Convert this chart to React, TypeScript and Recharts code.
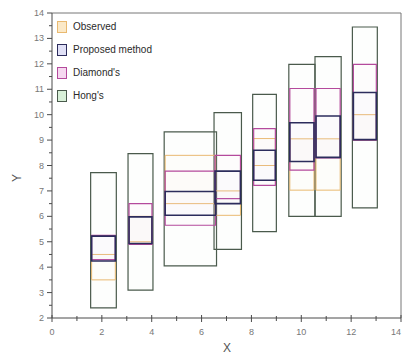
import {
  ComposedChart,
  XAxis,
  YAxis,
  Scatter,
  ReferenceArea,
  ReferenceLine,
} from 'recharts'

// x extent of each interval group
const groupLeft = [1.55, 3.05, 4.5, 6.5, 8.05, 9.5, 10.55, 12.05]
const groupRight = [2.58, 4.05, 6.6, 7.6, 9.0, 10.55, 11.6, 13.05]

const hongLow = [2.4, 3.1, 4.05, 4.7, 5.4, 6.0, 6.0, 6.33]
const hongHigh = [7.72, 8.47, 9.32, 10.08, 10.8, 11.98, 12.28, 13.45]
const observedLow = [3.5, 5.0, 6.5, 6.04, 8.0, 7.03, 7.03, 9.0]
const observedHigh = [4.5, 6.0, 8.4, 7.0, 9.06, 9.05, 9.05, 10.0]
const diamondLow = [4.3, 4.9, 5.65, 6.7, 7.22, 7.82, 8.3, 9.0]
const diamondHigh = [5.25, 6.5, 7.78, 8.4, 9.45, 11.03, 11.03, 11.98]
const proposedLow = [4.24, 4.93, 6.04, 6.5, 7.42, 8.16, 8.32, 9.02]
const proposedHigh = [5.22, 5.98, 6.98, 7.78, 8.6, 9.68, 9.95, 10.87]

const xTicks = [0, 1, 2, 3, 4, 5, 6, 7, 8, 9, 10, 11, 12, 13, 14]
const yTicks = [
  2, 2.5, 3, 3.5, 4, 4.5, 5, 5.5, 6, 6.5, 7, 7.5, 8, 8.5, 9, 9.5, 10, 10.5,
  11, 11.5, 12, 12.5, 13, 13.5, 14,
]

const series = [
  { name: 'Hong\'s', low: hongLow, high: hongHigh, stroke: '#4a5a4c', fill: '#d8f0d8', width: 1.2, inset: 0 },
  { name: 'Observed', low: observedLow, high: observedHigh, stroke: '#e9b970', fill: '#fbe9c8', width: 1, inset: 0.04 },
  { name: 'Diamond\'s', low: diamondLow, high: diamondHigh, stroke: '#b44a9c', fill: '#f6d8f0', width: 1.2, inset: 0.04 },
  { name: 'Proposed method', low: proposedLow, high: proposedHigh, stroke: '#2c2c5c', fill: '#e0e0f6', width: 1.6, inset: 0.04 },
]

const legendOrder = ['Observed', 'Proposed method', 'Diamond\'s', 'Hong\'s']

const centers = groupLeft.map((l, i) => ({
  x: (l + groupRight[i]) / 2,
  y: (hongLow[i] + hongHigh[i]) / 2,
}))

const AXIS = '#4a4a4a'
const FONT = '"Liberation Sans", Arial, sans-serif'

const XTick = ({ x, y, payload }: any) => {
  const major = payload.value % 2 === 0
  return (
    <g>
      <line x1={x} x2={x} y1={y - (major ? 3 : 2)} y2={y + (major ? 4 : 3)} stroke={AXIS} strokeWidth={1} />
      {major && (
        <text x={Math.min(x, 396)} y={y + 17} textAnchor="middle" fontSize={9} fill="#777" fontFamily={FONT}>
          {payload.value}
        </text>
      )}
    </g>
  )
}

const YTick = ({ x, y, payload }: any) => {
  const major = Number.isInteger(payload.value)
  return (
    <g>
      <line x1={x} x2={x - (major ? 5 : 3)} y1={y} y2={y} stroke={AXIS} strokeWidth={1} />
      {major && (
        <text x={x - 8} y={y + 3} textAnchor="end" fontSize={9} fill="#777" fontFamily={FONT}>
          {payload.value}
        </text>
      )}
    </g>
  )
}

export default function App() {
  return (
    <div style={{ position: 'relative', width: 403, height: 363, background: '#fff' }}>
      <style>{'body{margin:0}'}</style>
      <ComposedChart width={403} height={363} margin={{ top: 13, right: 2, bottom: 0, left: 0 }}>
        <XAxis
          type="number"
          dataKey="x"
          domain={[0, 14]}
          ticks={xTicks}
          interval={0}
          height={45}
          tickSize={0}
          tickMargin={0}
          tickLine={false}
          tick={<XTick />}
          stroke={AXIS}
          label={{
            content: () => (
              <text x={227} y={352} textAnchor="middle" fontSize={12} fill="#555" fontFamily={FONT}>
                X
              </text>
            ),
          }}
        />
        <YAxis
          type="number"
          dataKey="y"
          domain={[2, 14]}
          ticks={yTicks}
          interval={0}
          width={52}
          tickSize={0}
          tickMargin={0}
          tickLine={false}
          tick={<YTick />}
          stroke={AXIS}
          label={{
            content: () => (
              <text x={21} y={178} textAnchor="middle" fontSize={12} fill="#555" fontFamily={FONT} transform="rotate(-90 21 178)">
                Y
              </text>
            ),
          }}
        />
        <ReferenceLine y={14} stroke="#777" strokeWidth={1} />
        <ReferenceLine x={14} stroke="#777" strokeWidth={1} />
        {series.map((s) =>
          groupLeft.map((l, i) => (
            <ReferenceArea
              key={s.name + i}
              x1={l + s.inset}
              x2={groupRight[i] - s.inset}
              y1={s.low[i]}
              y2={s.high[i]}
              stroke={s.stroke}
              strokeWidth={s.width}
              fill={s.fill}
              fillOpacity={0.05}
              ifOverflow="visible"
            />
          ))
        )}
        <Scatter data={centers} fill="none" shape={() => <g />} isAnimationActive={false} />
      </ComposedChart>
      <div style={{ position: 'absolute', left: 57, top: 15, fontFamily: FONT, fontSize: 10, color: '#2a2a2a' }}>
        {legendOrder.map((name) => {
          const s = series.find((v) => v.name === name)!
          return (
            <div key={name} style={{ display: 'flex', alignItems: 'center', height: 23 }}>
              <span
                style={{
                  width: 10,
                  height: 12,
                  border: `1px solid ${s.stroke}`,
                  background: s.fill,
                  marginRight: 6,
                  boxSizing: 'border-box',
                }}
              />
              <span>{name}</span>
            </div>
          )
        })}
      </div>
    </div>
  )
}
